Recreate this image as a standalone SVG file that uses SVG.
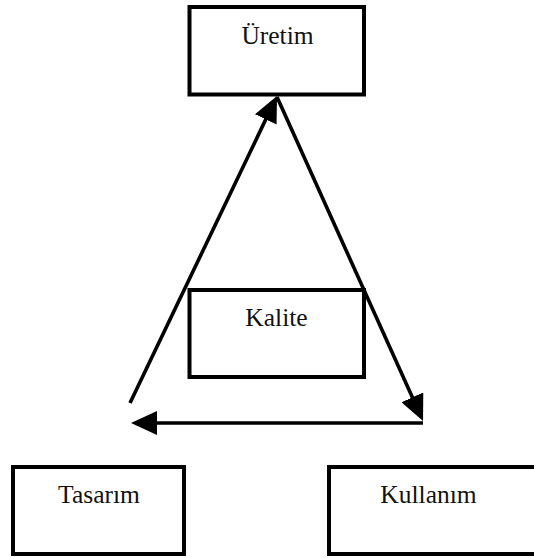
<svg xmlns="http://www.w3.org/2000/svg" width="534" height="558" viewBox="0 0 534 558">
  <defs>
    <style>
      .box { fill: #ffffff; stroke: #000000; stroke-width: 4; }
      .label { font-family: "Liberation Serif", "Times New Roman", serif; font-size: 25.5px; fill: #111111; text-anchor: middle; }
      .edge { fill: none; stroke: #000000; stroke-width: 3.6; }
    </style>
    <marker id="arrow" markerUnits="userSpaceOnUse" markerWidth="26" markerHeight="24" refX="14" refY="12" orient="auto">
      <path d="M0,0 L26,12 L0,24 z" fill="#000000"/>
    </marker>
  </defs>

  <rect width="534" height="558" fill="#ffffff"/>

  <!-- connectors -->
  <g id="connectors">
    <path class="edge" d="M130,403 L271.8,106.8" marker-end="url(#arrow)"/>
    <path class="edge" d="M277,97 L418.1,410.1" marker-end="url(#arrow)"/>
    <path class="edge" d="M423,423 L143,423" stroke-width="4.2" marker-end="url(#arrow)"/>
  </g>

  <!-- nodes -->
  <g id="uretim">
    <rect class="box" x="189.5" y="7" width="174.5" height="87.5"/>
    <text class="label" x="277.5" y="44">Üretim</text>
  </g>
  <g id="kalite">
    <rect class="box" x="189.5" y="290" width="174.5" height="87"/>
    <text class="label" x="276.5" y="326">Kalite</text>
  </g>
  <g id="tasarim">
    <rect class="box" x="13" y="467" width="171" height="87"/>
    <text class="label" x="99" y="503">Tasarım</text>
  </g>
  <g id="kullanim">
    <!-- box runs past the right edge of the canvas -->
    <rect class="box" x="329" y="467" width="220" height="87"/>
    <text class="label" x="428.5" y="503">Kullanım</text>
  </g>
</svg>
